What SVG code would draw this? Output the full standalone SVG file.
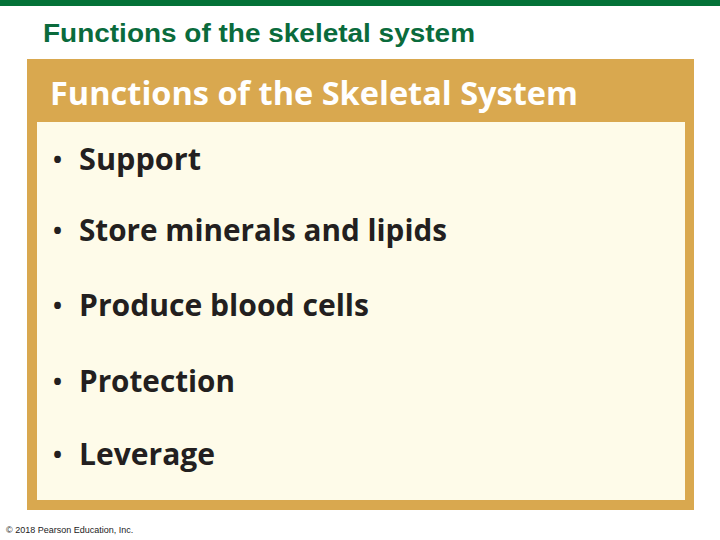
<svg xmlns="http://www.w3.org/2000/svg" width="720" height="540" viewBox="0 0 720 540">
<style>
.item{font-family:"Open Sans","Liberation Sans",sans-serif;font-weight:bold;font-size:30px;fill:#231f20}
.b{font-family:"Open Sans","Liberation Sans",sans-serif;font-weight:bold;font-size:24px;fill:#231f20}
</style>
<rect width="720" height="540" fill="#fff"/>
<rect x="0" y="0" width="720" height="6" fill="#047238"/>
<text x="43" y="42" font-family="Liberation Sans,sans-serif" font-weight="bold" font-size="25" fill="#0a6b3c" textLength="432" lengthAdjust="spacingAndGlyphs">Functions of the skeletal system</text>
<g id="panel">
<rect x="27" y="59" width="667" height="451" fill="#d9a84f"/>
<rect x="37" y="122" width="648" height="378" fill="#fefbe9"/>
<text x="50" y="105" font-family="Open Sans,Liberation Sans,sans-serif" font-weight="bold" font-size="33" fill="#fff" textLength="528" lengthAdjust="spacingAndGlyphs">Functions of the Skeletal System</text>
</g>
<g id="items">
<text class="b" x="53" y="168">•</text><text class="item" x="79" y="170" textLength="122" lengthAdjust="spacingAndGlyphs">Support</text>
<text class="b" x="53" y="239">•</text><text class="item" x="79" y="241" textLength="368" lengthAdjust="spacingAndGlyphs">Store minerals and lipids</text>
<text class="b" x="53" y="314">•</text><text class="item" x="79" y="316" textLength="290" lengthAdjust="spacingAndGlyphs">Produce blood cells</text>
<text class="b" x="53" y="390">•</text><text class="item" x="79" y="392" textLength="156" lengthAdjust="spacingAndGlyphs">Protection</text>
<text class="b" x="53" y="463">•</text><text class="item" x="79" y="465" textLength="136" lengthAdjust="spacingAndGlyphs">Leverage</text>
</g>
<text x="6" y="533" font-family="Liberation Sans,sans-serif" font-size="9" fill="#222">© 2018 Pearson Education, Inc.</text>
</svg>
